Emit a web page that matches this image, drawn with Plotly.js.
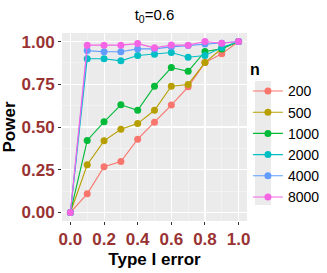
<!DOCTYPE html>
<html>
<head>
<meta charset="utf-8">
<script src="https://cdn.plot.ly/plotly-3.0.1.min.js"></script>
<style>html,body{margin:0;padding:0;background:#fff;}#chart{width:327px;height:273px;}</style>
</head>
<body>
<div id="chart"></div>
<script>
const typeIError = [0, 0.1, 0.2, 0.3, 0.4, 0.5, 0.6, 0.7, 0.8, 0.9, 1.0];
const seriesNames = ["200", "500", "1000", "2000", "4000", "8000"];
const power200  = [0, 0.109, 0.267, 0.298, 0.429, 0.528, 0.628, 0.735, 0.877, 0.928, 1];
const power500  = [0, 0.279, 0.419, 0.487, 0.520, 0.598, 0.739, 0.749, 0.877, 0.959, 1];
const power1000 = [0, 0.421, 0.530, 0.630, 0.598, 0.739, 0.848, 0.826, 0.942, 0.957, 1];
const power2000 = [0, 0.899, 0.899, 0.887, 0.918, 0.926, 0.936, 0.908, 0.918, 0.965, 1];
const power4000 = [0, 0.947, 0.940, 0.940, 0.957, 0.957, 0.969, 0.977, 0.986, 0.990, 1];
const power8000 = [0, 0.979, 0.979, 0.979, 0.988, 0.963, 0.980, 0.979, 1.000, 0.990, 1];
const xTickVals = [0, 0.2, 0.4, 0.6, 0.8, 1.0];
const yTickVals = [0, 0.25, 0.5, 0.75, 1.0];
const colors = ["#F8766D", "#B79F00", "#00BA38", "#00BFC4", "#619CFF", "#F564E3"];

const allPower = [power200, power500, power1000, power2000, power4000, power8000];
const traces = allPower.map((ys, i) => ({
  x: typeIError, y: ys, name: seriesNames[i], type: "scatter", mode: "lines+markers",
  line: {color: colors[i], width: 1.1},
  marker: {color: colors[i], size: 7}
}));

const tickColor = "#993333";
const layout = {
  width: 327, height: 273,
  margin: {l: 62, r: 80, t: 33, b: 52, autoexpand: false},
  paper_bgcolor: "#ffffff",
  plot_bgcolor: "#EBEBEB",
  font: {family: "Liberation Sans, Arial, sans-serif", color: "#000"},
  title: {text: "t<sub>0</sub>=0.6", x: 0.5, xref: "paper", y: 0.965, yref: "container",
          font: {size: 15, color: "#000"}},
  xaxis: {
    range: [-0.05, 1.05], tickvals: xTickVals, tickformat: ".1f",
    showgrid: true, gridcolor: "#ffffff", gridwidth: 1.1, zeroline: false,
    ticks: "outside", ticklen: 3, tickcolor: "#333", tickwidth: 1,
    tickfont: {size: 17, color: tickColor, weight: "bold"},
    minor: {dtick: 0.1, tick0: 0.1, showgrid: true, gridcolor: "#F7F7F7", gridwidth: 0.6},
    title: {text: "Type I error", standoff: 4, font: {size: 17, color: "#000", weight: "bold"}}
  },
  yaxis: {
    range: [-0.05, 1.05], tickvals: yTickVals, tickformat: ".2f",
    showgrid: true, gridcolor: "#ffffff", gridwidth: 1.1, zeroline: false,
    ticks: "outside", ticklen: 3, tickcolor: "#333", tickwidth: 1,
    tickfont: {size: 17, color: tickColor, weight: "bold"},
    minor: {dtick: 0.125, tick0: 0.125, showgrid: true, gridcolor: "#F7F7F7", gridwidth: 0.6},
    title: {text: "Power", standoff: 3, font: {size: 17, color: "#000", weight: "bold"}}
  },
  showlegend: true,
  legend: {
    xref: "paper", yref: "paper",
    x: 1.005, xanchor: "left", y: 0.885, yanchor: "top",
    maxheight: 260,
    bgcolor: "rgba(0,0,0,0)",
    font: {size: 14, color: "#000"},
    title: {text: "n", font: {size: 16, color: "#000", weight: "bold"}},
    itemwidth: 30, tracegroupgap: 0
  },
  shapes: [{type: "rect", xref: "paper", yref: "paper", x0: 1.043, x1: 1.13, y0: 0.085, y1: 0.745,
            fillcolor: "#EBEBEB", line: {width: 0}, layer: "below"}]
};

Plotly.newPlot("chart", traces, layout, {displayModeBar: false, staticPlot: true});
</script>
</body>
</html>
